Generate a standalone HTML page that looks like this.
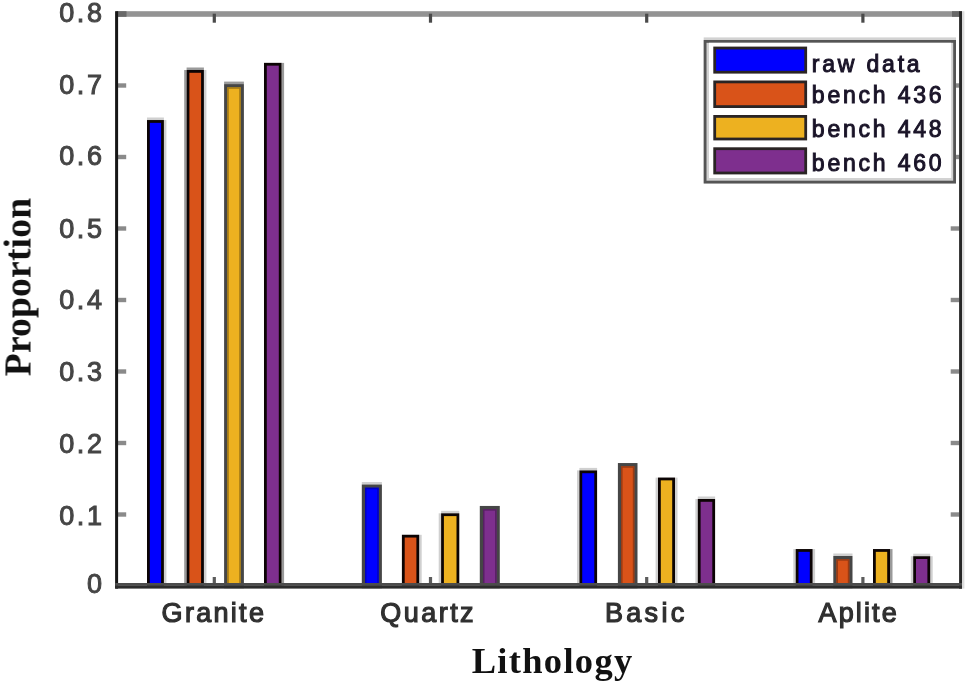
<!DOCTYPE html>
<html><head><meta charset="utf-8"><title>Lithology proportions</title>
<style>
html,body{margin:0;padding:0;background:#fff;}
body{width:967px;height:686px;overflow:hidden;position:relative;}
svg{position:absolute;left:0;top:0;display:block;}
.tk{font-family:"Liberation Sans",Arial,sans-serif;font-size:27px;fill:#454545;stroke:#454545;stroke-width:1px;letter-spacing:2.6px;}
.cat{font-family:"Liberation Sans",Arial,sans-serif;font-size:27px;fill:#303030;stroke:#303030;stroke-width:1.2px;letter-spacing:1.8px;}
.lg{font-family:"Liberation Sans",Arial,sans-serif;font-size:23px;fill:#1a1428;stroke:#1a1428;stroke-width:1px;letter-spacing:2.8px;}
text{filter:blur(0.55px);}
.ax{font-family:"Liberation Serif","Times New Roman",serif;font-weight:bold;fill:#111;}
</style></head><body>
<svg width="967" height="686" viewBox="0 0 967 686">
<rect x="0" y="0" width="967" height="686" fill="#ffffff"/>
<rect x="116" y="11.2" width="846" height="5.6" fill="#939393"/>
<rect x="212.7" y="13.7" width="3.2" height="9" fill="#4a4a4a"/>
<rect x="428.9" y="13.7" width="3.2" height="9" fill="#4a4a4a"/>
<rect x="645.1" y="13.7" width="3.2" height="9" fill="#4a4a4a"/>
<rect x="861.3" y="13.7" width="3.2" height="9" fill="#4a4a4a"/>
<rect x="117" y="11.2" width="9.5" height="5.6" fill="#686868"/>
<rect x="952" y="11.2" width="8" height="5.6" fill="#686868"/>
<rect x="117" y="512.3" width="9.2" height="4.4" fill="#8a8a8a"/>
<rect x="950.7" y="512.3" width="8.6" height="4.4" fill="#8a8a8a"/>
<rect x="117" y="440.8" width="9.2" height="4.4" fill="#8a8a8a"/>
<rect x="950.7" y="440.8" width="8.6" height="4.4" fill="#8a8a8a"/>
<rect x="117" y="369.3" width="9.2" height="4.4" fill="#8a8a8a"/>
<rect x="950.7" y="369.3" width="8.6" height="4.4" fill="#8a8a8a"/>
<rect x="117" y="297.8" width="9.2" height="4.4" fill="#8a8a8a"/>
<rect x="950.7" y="297.8" width="8.6" height="4.4" fill="#8a8a8a"/>
<rect x="117" y="226.3" width="9.2" height="4.4" fill="#8a8a8a"/>
<rect x="950.7" y="226.3" width="8.6" height="4.4" fill="#8a8a8a"/>
<rect x="117" y="154.8" width="9.2" height="4.4" fill="#8a8a8a"/>
<rect x="950.7" y="154.8" width="8.6" height="4.4" fill="#8a8a8a"/>
<rect x="117" y="83.3" width="9.2" height="4.4" fill="#8a8a8a"/>
<rect x="950.7" y="83.3" width="8.6" height="4.4" fill="#8a8a8a"/>
<rect x="163.9" y="120.0" width="2.5" height="465.9" fill="#d0d0d0"/>
<rect x="147.0" y="117.5" width="16.9" height="2.5" fill="#d0d0d0"/>
<rect x="148.40" y="121.45" width="14.10" height="465.15" fill="#0000ff" stroke="#0c0404" stroke-width="2.8"/>
<rect x="184.2" y="70.0" width="2.4" height="516.0" fill="#9a9a9a"/>
<rect x="203.9" y="70.0" width="2.5" height="516.0" fill="#d0d0d0"/>
<rect x="186.6" y="67.5" width="17.3" height="2.5" fill="#9a9a9a"/>
<rect x="188.00" y="71.40" width="14.50" height="515.20" fill="#d95319" stroke="#0c0404" stroke-width="2.8"/>
<rect x="224.1" y="81.6" width="19.8" height="2.5" fill="#9a9a9a"/>
<rect x="225.70" y="85.70" width="16.60" height="500.90" fill="#edb120" stroke="#464646" stroke-width="3.2"/>
<rect x="228.05" y="88.05" width="11.90" height="498.70" fill="none" stroke="#8f6a14" stroke-width="1.5" stroke-opacity="0.8"/>
<rect x="281.6" y="62.9" width="2.5" height="523.1" fill="#9a9a9a"/>
<rect x="265.40" y="64.25" width="14.80" height="522.35" fill="#7e2f8e" stroke="#0c0404" stroke-width="2.8"/>
<rect x="361.8" y="482.0" width="20.1" height="2.5" fill="#d0d0d0"/>
<rect x="363.40" y="486.10" width="16.90" height="100.50" fill="#0000ff" stroke="#464646" stroke-width="3.2"/>
<rect x="365.75" y="488.45" width="12.20" height="98.30" fill="none" stroke="#0000b0" stroke-width="1.5" stroke-opacity="0.8"/>
<rect x="419.2" y="534.8" width="2.5" height="51.2" fill="#d0d0d0"/>
<rect x="403.30" y="536.15" width="14.50" height="50.45" fill="#d95319" stroke="#0c0404" stroke-width="2.8"/>
<rect x="438.7" y="513.3" width="2.4" height="72.7" fill="#d0d0d0"/>
<rect x="441.1" y="510.8" width="18.2" height="2.5" fill="#d0d0d0"/>
<rect x="442.50" y="514.70" width="15.40" height="71.90" fill="#edb120" stroke="#0c0404" stroke-width="2.8"/>
<rect x="481.40" y="507.55" width="16.80" height="79.05" fill="#7e2f8e" stroke="#464646" stroke-width="3.2"/>
<rect x="483.75" y="509.90" width="12.10" height="76.85" fill="none" stroke="#4e1d58" stroke-width="1.5" stroke-opacity="0.8"/>
<rect x="577.0" y="470.4" width="2.4" height="115.6" fill="#d0d0d0"/>
<rect x="579.4" y="467.9" width="17.7" height="2.5" fill="#d0d0d0"/>
<rect x="580.80" y="471.80" width="14.90" height="114.80" fill="#0000ff" stroke="#0c0404" stroke-width="2.8"/>
<rect x="619.50" y="464.65" width="16.40" height="121.95" fill="#d95319" stroke="#464646" stroke-width="3.2"/>
<rect x="621.85" y="467.00" width="11.70" height="119.75" fill="none" stroke="#8a3510" stroke-width="1.5" stroke-opacity="0.8"/>
<rect x="655.6" y="477.6" width="2.4" height="108.4" fill="#d0d0d0"/>
<rect x="675.0" y="477.6" width="2.5" height="108.4" fill="#d0d0d0"/>
<rect x="659.40" y="478.95" width="14.20" height="107.65" fill="#edb120" stroke="#0c0404" stroke-width="2.8"/>
<rect x="695.4" y="499.0" width="2.4" height="87.0" fill="#d0d0d0"/>
<rect x="697.8" y="496.5" width="17.3" height="2.5" fill="#d0d0d0"/>
<rect x="699.20" y="500.40" width="14.50" height="86.20" fill="#7e2f8e" stroke="#0c0404" stroke-width="2.8"/>
<rect x="793.3" y="549.1" width="2.4" height="36.9" fill="#d0d0d0"/>
<rect x="812.6" y="549.1" width="2.5" height="36.9" fill="#d0d0d0"/>
<rect x="797.10" y="550.45" width="14.10" height="36.15" fill="#0000ff" stroke="#0c0404" stroke-width="2.8"/>
<rect x="833.3" y="553.5" width="19.2" height="2.5" fill="#d0d0d0"/>
<rect x="834.90" y="557.60" width="16.00" height="29.00" fill="#d95319" stroke="#464646" stroke-width="3.2"/>
<rect x="837.25" y="559.95" width="11.30" height="26.80" fill="none" stroke="#8a3510" stroke-width="1.5" stroke-opacity="0.8"/>
<rect x="890.0" y="549.1" width="2.5" height="36.9" fill="#9a9a9a"/>
<rect x="874.40" y="550.45" width="14.20" height="36.15" fill="#edb120" stroke="#0c0404" stroke-width="2.8"/>
<rect x="910.8" y="556.2" width="2.4" height="29.8" fill="#d0d0d0"/>
<rect x="930.2" y="556.2" width="2.5" height="29.8" fill="#d0d0d0"/>
<rect x="913.2" y="553.7" width="17.0" height="2.5" fill="#d0d0d0"/>
<rect x="914.60" y="557.60" width="14.20" height="29.00" fill="#7e2f8e" stroke="#0c0404" stroke-width="2.8"/>
<rect x="212.7" y="577" width="3.2" height="7" fill="#5c5c5c"/>
<rect x="428.9" y="577" width="3.2" height="7" fill="#5c5c5c"/>
<rect x="645.1" y="577" width="3.2" height="7" fill="#5c5c5c"/>
<rect x="861.3" y="577" width="3.2" height="7" fill="#5c5c5c"/>
<rect x="115.1" y="11.2" width="3" height="577.4" fill="#161616"/>
<rect x="962" y="11.2" width="2.4" height="577.4" fill="#dcdcdc"/>
<rect x="959.1" y="11.2" width="2.9" height="577.4" fill="#262626"/>
<rect x="115.2" y="583" width="846.8" height="2.9" fill="#4c4c4c"/>
<rect x="115.2" y="585.8" width="846.8" height="2.8" fill="#2c2c2c"/>
<text class="tk" x="104.6" y="593.3" text-anchor="end">0</text>
<text class="tk" x="104.6" y="524.5" text-anchor="end">0.1</text>
<text class="tk" x="104.6" y="452.8" text-anchor="end">0.2</text>
<text class="tk" x="104.6" y="380.8" text-anchor="end">0.3</text>
<text class="tk" x="104.6" y="308.9" text-anchor="end">0.4</text>
<text class="tk" x="104.6" y="237.5" text-anchor="end">0.5</text>
<text class="tk" x="104.6" y="165.4" text-anchor="end">0.6</text>
<text class="tk" x="104.6" y="93.5" text-anchor="end">0.7</text>
<text class="tk" x="104.6" y="21.9" text-anchor="end">0.8</text>
<text class="cat" x="161.60" y="622" style="letter-spacing:2.30px">Granite</text>
<text class="cat" x="380.20" y="622" style="letter-spacing:2.48px">Quartz</text>
<text class="cat" x="605.00" y="622" style="letter-spacing:3.30px">Basic</text>
<text class="cat" x="818.50" y="622" style="letter-spacing:2.15px">Aplite</text>
<text class="ax" x="552.6" y="673.2" text-anchor="middle" font-size="36.5" letter-spacing="1.3">Lithology</text>
<text class="ax" transform="translate(30.5 287) rotate(-90)" text-anchor="middle" font-size="37.5" letter-spacing="0.2">Proportion</text>
<rect x="703.7" y="37.4" width="252.3" height="146" fill="#d2d2d2"/>
<rect x="705.1" y="41.4" width="249.5" height="140.7" fill="none" stroke="#555555" stroke-width="2.8"/>
<rect x="709" y="42.8" width="242.2" height="135.2" fill="#ffffff"/>
<rect x="714.7" y="48.0" width="91" height="24.2" fill="#0000ff" stroke="#2a2424" stroke-width="2.8"/>
<text class="lg" x="811.8" y="71.5">raw data</text>
<rect x="714.7" y="81.9" width="91" height="24.7" fill="#d95319" stroke="#2a2424" stroke-width="2.8"/>
<text class="lg" x="811.8" y="103.0">bench 436</text>
<rect x="714.7" y="116.4" width="91" height="22.6" fill="#edb120" stroke="#2a2424" stroke-width="2.8"/>
<text class="lg" x="811.8" y="137.3">bench 448</text>
<rect x="714.7" y="148.7" width="91" height="24.3" fill="#7e2f8e" stroke="#2a2424" stroke-width="2.8"/>
<text class="lg" x="811.8" y="171.3">bench 460</text>
</svg>
</body></html>
